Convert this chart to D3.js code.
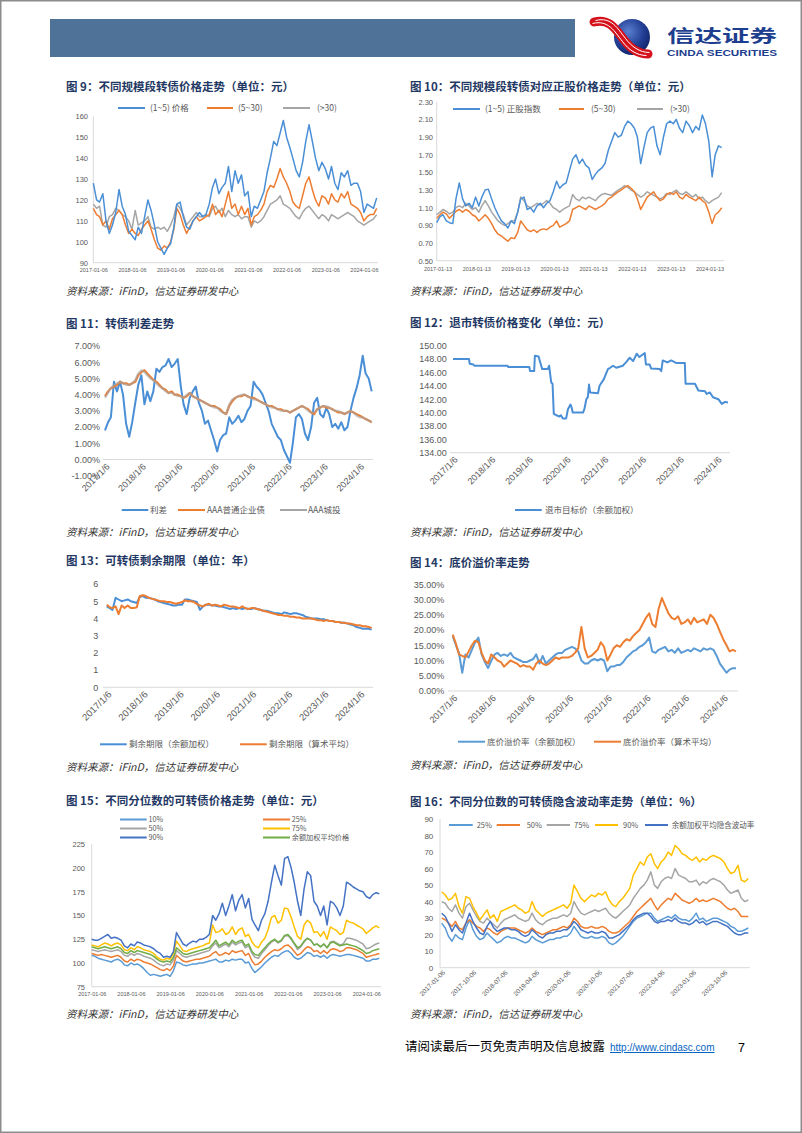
<!DOCTYPE html>
<html><head><meta charset="utf-8">
<script src="https://cdn.jsdelivr.net/npm/d3@7"></script>
<style>
body{margin:0;background:#fff;}
svg{display:block;font-family:"Liberation Sans","Noto Sans CJK SC",sans-serif;}
</style></head><body>
<svg id="page" width="802" height="1133"></svg>
<script>
// ---------- shared monthly categories ----------
const months = d3.range(89).map(i => d3.timeMonth.offset(new Date(2017, 0, 6), i));

// ---------- 图9 ----------
const c9Names = ["(1~5) 价格", "(5~30)", "(>30)"];
const c9Small = [128,120,119,123,110,104,108,114,125,117,113,105, 103,101,107,104,112,120,115,108,100,97,94,97, 99,107,118,119,112,107,106,110,112,114,112,113, 118,126,130,123,126,128,136,124,134,128,132,122, 124,112,117,116,120,124,133,140,148,146,152,158, 150,145,140,134,131,138,148,156,148,140,134,138, 135,130,136,128,125,133,131,134,127,128,128,124, 114,118,117,116,121];
const c9Mid = [116,113,112,108,110,106,111,113,115,113,108,104, 106,104,103,106,108,110,106,101,97,96,98,97, 100,106,116,113,108,104,107,110,112,110,111,112, 113,118,113,115,112,118,124,116,118,113,117,113, 116,108,112,113,115,118,124,127,126,130,135,131, 128,124,119,117,116,122,128,131,125,120,117,122, 121,118,123,120,119,123,121,124,118,117,116,114, 110,112,113,113,116];
const c9Large = [118,116,117,108,107,112,113,116,115,113,112,110, 106,115,108,109,110,112,107,106,107,106,107,105, 108,112,118,116,113,108,110,112,114,112,112,113, 112,116,117,114,116,112,115,113,112,113,111,112, 112,107,110,109,110,112,115,118,119,120,122,118, 117,116,114,112,111,114,116,117,115,113,111,113, 112,110,113,112,111,112,113,114,113,112,110,109, 108,109,110,111,113];
const c9YTicks = [90,100,110,120,130,140,150,160];
const c9XTicks = ["2017-01-06","2018-01-06","2019-01-06","2020-01-06","2021-01-06","2022-01-06","2023-01-06","2024-01-06"];

// ---------- 图10 ----------
const c10Names = ["(1~5) 正股指数", "(5~30)", "(>30)"];
const c10Small = [0.93,1.00,1.02,0.95,0.93,0.92,1.20,1.38,1.20,1.12,1.15,1.10, 1.22,1.12,1.22,1.30,1.31,1.20,1.10,1.02,0.95,0.92,0.87,0.95, 0.92,1.05,1.20,1.22,1.08,1.10,1.05,1.12,1.15,1.10,1.15,1.18, 1.28,1.40,1.32,1.36,1.38,1.52,1.65,1.70,1.60,1.65,1.58,1.55, 1.42,1.48,1.52,1.55,1.60,1.75,1.85,1.95,1.90,1.92,2.02,2.08, 2.05,2.00,1.90,1.60,1.78,1.95,2.00,2.02,1.80,1.70,1.90,2.05, 2.08,2.05,2.10,2.00,1.95,2.08,2.03,1.95,2.02,1.98,2.15,2.05, 1.85,1.45,1.70,1.80,1.78];
const c10Mid = [0.98,1.02,1.05,1.03,0.98,1.02,1.06,1.08,1.05,1.08,1.06,1.02, 1.00,0.95,0.98,1.02,0.98,0.92,0.85,0.80,0.78,0.75,0.72,0.76, 0.75,0.82,0.95,0.90,0.85,0.83,0.85,0.82,0.85,0.86,0.85,0.88, 0.90,0.95,0.88,0.90,0.92,0.95,1.08,1.10,1.12,1.10,1.08,1.12, 1.10,1.08,1.10,1.12,1.15,1.20,1.22,1.25,1.28,1.30,1.33,1.35, 1.32,1.28,1.20,1.08,1.15,1.22,1.25,1.28,1.22,1.18,1.20,1.25, 1.27,1.25,1.28,1.22,1.20,1.25,1.22,1.20,1.18,1.22,1.18,1.15, 1.05,0.92,1.02,1.05,1.10];
const c10Large = [1.02,1.05,1.08,1.06,1.03,1.05,1.10,1.12,1.10,1.15,1.12,1.08, 1.10,1.05,1.12,1.18,1.12,1.05,1.00,0.95,0.92,0.90,0.92,0.95, 0.95,1.05,1.22,1.18,1.12,1.10,1.12,1.15,1.13,1.15,1.18,1.15, 1.10,1.08,1.05,1.08,1.10,1.12,1.25,1.20,1.18,1.22,1.20,1.22, 1.20,1.18,1.22,1.25,1.26,1.25,1.24,1.27,1.30,1.32,1.35,1.33, 1.30,1.28,1.25,1.22,1.24,1.28,1.26,1.24,1.22,1.20,1.22,1.26, 1.25,1.28,1.30,1.26,1.25,1.28,1.25,1.22,1.25,1.20,1.22,1.18, 1.15,1.18,1.20,1.22,1.27];
const c10YTicks = [0.5,0.7,0.9,1.1,1.3,1.5,1.7,1.9,2.1,2.3];
const c10XTicks = ["2017-01-13","2018-01-13","2019-01-13","2020-01-13","2021-01-13","2022-01-13","2023-01-13","2024-01-13"];

// ---------- 图11 ----------
const c11Names = ["利差", "AAA普通企业债", "AAA城投"];
const c11Spread = [1.8,2.3,2.6,4.8,4.2,4.8,4.0,2.2,1.4,2.3,3.5,4.6, 5.2,3.4,4.2,3.6,4.2,5.6,5.4,5.7,5.8,6.2,5.7,5.9, 6.2,4.5,3.4,2.8,3.8,4.2,4.5,3.5,3.0,2.2,2.4,1.8, 1.2,0.5,1.2,1.5,1.6,2.6,2.2,2.4,2.7,2.3,2.5,3.0, 3.3,4.8,4.5,4.3,4.0,3.5,3.0,2.2,1.8,1.4,1.2,0.6, 0.2,-0.2,1.0,2.6,2.8,2.5,1.6,1.2,2.0,3.5,3.8,2.8, 2.6,3.2,2.8,2.0,2.2,1.9,2.3,1.8,2.0,3.0,3.8,4.4, 5.2,6.4,5.3,5.0,4.2];
const c11Corp = [3.9,4.2,4.4,4.5,4.6,4.8,4.7,4.7,4.6,4.7,4.8,5.2, 5.4,5.5,5.3,5.1,4.9,4.8,4.6,4.4,4.3,4.1,4.2,4.0, 4.0,3.9,3.8,3.9,4.1,3.9,3.8,3.7,3.6,3.5,3.4,3.3, 3.3,3.2,3.1,2.9,2.8,3.3,3.6,3.8,3.9,3.9,4.0,3.9, 3.8,3.8,3.7,3.6,3.5,3.4,3.3,3.3,3.2,3.1,3.1,3.0, 3.0,2.9,3.0,3.1,3.2,3.3,3.2,3.1,2.9,2.8,3.1,3.2, 3.3,3.2,3.2,3.1,3.0,2.9,2.9,2.8,2.9,3.0,2.9,2.8, 2.7,2.6,2.5,2.4,2.3];
const c11Urban = [3.8,4.1,4.4,4.6,4.7,4.8,4.7,4.6,4.6,4.7,4.9,5.3, 5.5,5.4,5.2,5.0,4.9,4.7,4.5,4.4,4.2,4.1,4.1,4.0, 3.9,3.9,3.8,4.0,4.1,3.9,3.8,3.7,3.6,3.5,3.4,3.3, 3.2,3.2,3.0,2.9,2.8,3.4,3.7,3.8,3.9,4.0,4.0,3.9, 3.8,3.7,3.7,3.6,3.5,3.4,3.3,3.2,3.2,3.1,3.0,3.0, 3.0,2.9,3.0,3.1,3.2,3.3,3.2,3.0,2.9,2.9,3.1,3.2, 3.3,3.3,3.2,3.1,3.0,3.0,2.9,2.8,2.9,3.0,2.9,2.7, 2.6,2.6,2.5,2.4,2.3];
const c11YTicks = [-1,0,1,2,3,4,5,6,7];
const yearTicksSlash = ["2017/1/6","2018/1/6","2019/1/6","2020/1/6","2021/1/6","2022/1/6","2023/1/6","2024/1/6"];

// ---------- 图12 ----------
const c12Name = "退市目标价（余额加权）";
const c12Dates = ["2017-01-06","2017-06-10","2017-06-17","2017-07-22","2017-08-01","2018-06-18","2018-06-25","2019-01-15","2019-01-22","2019-03-03","2019-03-10","2019-04-15","2019-05-01","2019-05-20","2019-07-12","2019-07-26","2019-08-15","2019-08-28","2019-09-09","2019-10-05","2019-11-03","2019-11-17","2019-12-06","2020-01-06","2020-01-24","2020-02-18","2020-02-28","2020-03-10","2020-06-18","2020-07-01","2020-07-20","2020-08-04","2020-08-15","2020-08-26","2020-11-10","2020-11-25","2021-01-06","2021-02-14","2021-03-08","2021-04-05","2021-05-05","2021-07-08","2021-08-08","2021-09-13","2021-10-16","2021-11-20","2021-12-16","2022-02-06","2022-02-17","2022-03-25","2022-04-08","2022-07-01","2022-07-16","2022-07-30","2022-09-13","2022-10-20","2022-12-10","2023-03-01","2023-03-08","2023-06-07","2023-07-10","2023-09-13","2023-09-27","2023-10-30","2023-11-28","2024-01-20","2024-02-22","2024-03-25","2024-04-22"];
const c12Values = [148.0,148.0,147.3,147.2,147.0,147.0,146.8,146.8,146.2,146.2,148.5,148.4,147.5,146.5,146.5,147.0,144.5,144.3,139.8,139.6,139.4,139.6,139.1,139.1,140.5,141.2,140.8,140.0,140.0,140.5,142.0,142.3,144.2,143.0,142.9,144.0,145.0,146.5,146.7,147.0,146.7,147.0,147.5,148.2,147.7,148.8,148.3,148.9,147.2,147.2,146.6,146.5,146.2,147.8,147.5,147.8,147.4,147.4,144.3,144.3,143.3,143.2,142.8,143.0,142.3,142.0,141.3,141.6,141.5];
const c12YTicks = [134,136,138,140,142,144,146,148,150];

// ---------- 图13 ----------
const c13Names = ["剩余期限（余额加权）", "剩余期限（算术平均）"];
const c13Weighted = [4.7,4.6,4.5,5.2,5.1,5.0,5.05,5.1,5.0,4.95,4.9,5.25, 5.3,5.2,5.2,5.15,5.1,5.0,4.95,4.9,4.85,4.8,4.75,4.75, 4.8,4.8,5.1,5.1,5.05,5.0,4.95,4.5,4.7,4.8,4.8,4.75, 4.75,4.7,4.7,4.65,4.6,4.55,4.6,4.55,4.6,4.55,4.6,4.55, 4.55,4.6,4.55,4.5,4.45,4.45,4.4,4.35,4.3,4.3,4.25,4.35, 4.3,4.25,4.3,4.3,4.25,4.2,4.1,4.05,4.0,4.0,4.0,3.95, 3.95,3.9,3.85,3.85,3.8,3.8,3.75,3.75,3.7,3.65,3.6,3.5, 3.45,3.4,3.4,3.4,3.35];
const c13Average = [4.8,4.65,4.6,4.7,4.25,4.75,4.6,4.75,4.6,4.6,4.65,5.3, 5.35,5.3,5.2,5.15,5.1,5.05,5.0,5.0,4.95,4.95,4.9,4.85, 4.9,4.95,5.05,5.0,5.0,4.95,4.85,4.75,4.7,4.8,4.85,4.75, 4.8,4.75,4.7,4.8,4.75,4.7,4.7,4.65,4.6,4.7,4.6,4.55, 4.6,4.6,4.55,4.5,4.45,4.4,4.35,4.3,4.25,4.2,4.2,4.15, 4.15,4.1,4.1,4.05,4.05,4.0,4.0,4.0,4.0,3.95,3.9,3.9, 3.85,3.9,3.85,3.85,3.8,3.8,3.75,3.75,3.7,3.7,3.65,3.6, 3.6,3.55,3.55,3.5,3.45];
const c13YTicks = [0,1,2,3,4,5,6];

// ---------- 图14 ----------
const c14Names = ["底价溢价率（余额加权）", "底价溢价率（算术平均）"];
const c14Weighted = [18,15,12.5,6,12,11,13.5,16,17.5,12,9.5,7.5, 10,12,12.5,11.5,12,11.5,12.5,11,10.5,10,9.5,9.5, 10,10.5,12,9,11.5,9,10,11,12,12.5,12.5,13.5, 14,14.5,14,13,10,9,9,10,10.5,10,10.5,10, 6.5,8,8,8.5,8.5,9.5,11,12,13,13.5,14.5,15, 16,17.5,13,12.5,13.5,14,14.5,13,13.5,12.5,14,12.5, 13,13.5,13,14,13.5,13,14,13.5,14,13.5,11.5,9, 7.5,6,7,7.5,7.5];
const c14Average = [18.5,15.5,12,11.5,11,13,15,16.5,16,12.5,10,9, 12,11,10,9.5,8,9,10,9.5,9,8,8.5,8, 8,7,9,10,9,8.5,9,10,11,10.5,11,11, 11,11.5,12.5,14,21,14,11,11.5,12.5,13.5,16,14.5, 10,12,14,15,14.5,16,17,16.5,18,19,20,22, 24,25.5,22,21,27,30.5,28,25.5,24,23.5,24.5,22, 22.5,23.5,22,24,22.5,23,23.5,22,25,24,22,19.5, 17,15,13,13.5,13];
const c14YTicks = [0,5,10,15,20,25,30,35];

// ---------- 图15 ----------
const c15Names = ["10%", "25%", "50%", "75%", "90%", "余额加权平均价格"];
const c15P10 = [108,107,105,104,103,102,101,103,104,102,98,97, 100,98,99,97,94,90,87,88,87,86,87,88, 86,92,101,100,98,97,98,99,99,100,100,101, 102,103,104,101,101,103,102,104,103,104,104,100, 101,94,90,93,96,100,103,106,108,107,110,112, 113,110,106,104,105,108,111,110,107,108,106,108, 105,108,109,108,107,108,109,109,108,107,106,105, 102,102,104,104,105];
const c15P25 = [110,109,108,109,108,107,106,107,108,106,102,101, 104,102,104,103,101,100,99,97,95,93,92,94, 92,97,108,105,102,101,102,103,104,104,105,106, 107,110,112,108,109,111,109,113,111,112,113,108, 110,102,98,99,102,106,109,112,114,113,115,118, 119,116,112,108,110,114,117,116,112,113,110,113, 110,114,115,114,112,113,116,116,115,114,112,110, 106,107,108,109,110];
const c15P50 = [114,113,112,113,114,113,112,113,114,112,108,107, 110,108,110,109,107,106,105,103,100,98,97,99, 98,103,113,110,107,106,107,108,109,110,111,112, 113,118,121,116,118,120,117,122,119,121,122,116, 118,110,106,105,110,114,118,122,124,121,123,128, 129,125,120,114,117,122,126,124,119,120,117,120, 116,122,123,121,119,120,126,126,125,124,122,120, 115,116,118,120,121];
const c15P75 = [119,118,117,119,121,120,118,120,121,119,114,113, 116,114,117,116,114,113,112,110,106,104,103,105, 104,110,123,118,113,112,114,115,116,117,118,120, 121,140,132,133,136,130,132,138,130,135,137,128, 130,122,118,116,122,126,135,148,150,142,145,158, 157,148,138,128,125,140,145,142,132,133,128,133, 125,138,136,134,130,132,145,143,142,140,138,136, 131,134,137,139,137];
const c15P90 = [125,124,124,126,128,130,126,127,126,124,118,116, 120,118,122,121,119,118,117,115,112,110,106,107, 106,112,132,126,120,118,121,123,122,125,125,127, 130,150,145,152,163,150,160,172,155,166,172,158, 168,146,140,134,145,152,165,185,203,192,182,210, 212,200,185,165,150,178,196,192,165,160,150,160, 140,165,163,158,150,160,185,183,180,178,176,175, 170,168,172,174,173];
const c15Avg = [117,116,115,116,117,116,115,116,117,115,111,110, 113,111,113,112,111,110,109,107,104,102,101,102, 101,106,116,113,110,109,110,111,112,113,114,115, 116,120,124,118,120,122,119,124,121,123,124,118, 120,112,109,108,112,116,120,123,125,122,124,129, 130,126,121,116,118,123,126,124,119,120,117,120, 116,121,122,120,118,119,120,119,118,117,115,113, 110,111,113,114,115];
const c15YTicks = [75,100,125,150,175,200,225];

// ---------- 图16 ----------
const c16Names = ["25%", "50%", "75%", "90%", "余额加权平均隐含波动率"];
const c16P25 = [27,24,19,16,20,18,17,24,29,23,19,17, 18,21,19,17,15,16,18,19,18,18,17,16, 15,16,19,17,16,15,16,17,17,18,18,19, 19,21,25,22,19,18,18,19,18,18,19,18, 15,14,15,17,19,22,25,28,30,31,32,33, 33,30,28,29,30,31,30,32,30,29,29,28, 30,33,29,30,28,29,30,30,29,28,27,25, 24,22,22,23,24];
const c16P50 = [30,29,27,25,28,24,23,27,29,27,25,24, 22,24,23,21,20,22,23,24,24,24,23,22, 21,22,24,22,21,20,21,22,23,23,24,25, 24,26,30,28,25,24,24,25,24,24,25,24, 22,21,21,22,24,26,28,31,34,36,38,40, 42,38,35,38,40,42,41,45,43,41,40,39, 40,42,40,41,40,41,42,41,40,38,36,35, 36,34,31,31,31];
const c16P75 = [40,39,36,34,38,33,30,37,39,35,31,28, 27,30,28,26,24,27,29,30,31,32,30,29, 28,29,33,29,27,26,28,29,30,30,31,32, 31,33,40,36,33,32,33,34,35,34,35,36, 33,31,30,32,34,36,38,42,45,48,50,53, 58,50,48,52,54,55,54,60,56,55,54,52, 52,53,50,52,51,53,54,53,52,50,47,45, 46,47,42,40,41];
const c16P90 = [46,44,41,42,45,37,33,43,42,37,33,29, 32,35,30,32,28,34,35,36,37,38,36,35, 33,34,40,35,33,31,33,34,35,36,37,38, 36,39,50,46,42,40,42,44,43,45,44,46, 41,38,37,40,42,45,48,56,60,64,62,67, 69,63,60,64,66,70,68,74,72,69,68,66, 65,67,64,66,65,67,68,67,66,64,60,57, 58,62,53,52,54];
const c16Weighted = [33,31,27,22,26,23,21,27,33,28,24,21, 20,25,28,24,22,23,24,24,23,23,22,20, 19,20,23,21,19,18,20,21,21,22,22,23, 23,25,28,26,23,22,21,22,21,21,22,21, 18,18,19,20,22,24,26,29,31,32,33,33, 31,28,27,28,28,29,28,30,28,27,27,26, 27,29,27,28,26,27,28,28,27,26,25,23, 21,20,20,21,21];
const c16YTicks = [0,10,20,30,40,50,60,70,80,90];
const c16XTicks = ["2017-01-06","2017-10-06","2018-07-06","2019-04-06","2020-01-06","2020-10-06","2021-07-06","2022-04-06","2023-01-06","2023-10-06"];

// ---------- drawing ----------
const svg = d3.select("#page");
const AX = "#d9d9d9", TXT = "#595959";
const BLUE = "#4a8fd6", ORANGE = "#ed7d31", GRAY = "#a5a5a5", YELLOW = "#ffc000", DBLUE = "#4472c4", GREEN = "#70ad47", LBLUE = "#5b9bd5";
const CJK = "'Noto Sans CJK SC','Liberation Sans',sans-serif";
const parseD = s => { const p = s.split(/[-\/]/).map(Number); return new Date(p[0], p[1] - 1, p[2]); };

// page frame
svg.append("rect").attr("x", 0.75).attr("y", 0.75).attr("width", 800.5).attr("height", 1131.5)
  .attr("fill", "none").attr("stroke", "#8c8c8c").attr("stroke-width", 1.5);

// header bar
svg.append("rect").attr("x", 50).attr("y", 19).attr("width", 525).attr("height", 38).attr("fill", "#4f7298");

// logo
const defs = svg.append("defs");
const rg = defs.append("radialGradient").attr("id", "ball").attr("cx", "40%").attr("cy", "35%").attr("r", "70%");
rg.append("stop").attr("offset", "0%").attr("stop-color", "#5a7fd0");
rg.append("stop").attr("offset", "60%").attr("stop-color", "#233f95");
rg.append("stop").attr("offset", "100%").attr("stop-color", "#0f2266");
svg.append("circle").attr("cx", 632).attr("cy", 37).attr("r", 18).attr("fill", "url(#ball)");
const swoosh = "M 594 22 C 610 18, 616 30, 624 40 C 630 48, 638 54, 648 54";
svg.append("path").attr("d", swoosh).attr("fill", "none").attr("stroke", "#d5121b").attr("stroke-width", 9).attr("stroke-linecap", "round");
svg.append("path").attr("d", swoosh).attr("fill", "none").attr("stroke", "#fff").attr("stroke-width", 1).attr("transform", "translate(-1.5,1.5)");
svg.append("path").attr("d", swoosh).attr("fill", "none").attr("stroke", "#fff").attr("stroke-width", 1).attr("transform", "translate(1.5,-1.5)");
svg.append("text").attr("x", 667).attr("y", 42).attr("textLength", 110).attr("lengthAdjust", "spacingAndGlyphs")
  .style("font-family", CJK).style("font-size", "17px").style("font-weight", 700).attr("fill", "#1d3e8e").text("信达证券");
svg.append("text").attr("x", 667).attr("y", 56).attr("textLength", 110).attr("lengthAdjust", "spacingAndGlyphs")
  .style("font-size", "9px").style("font-weight", 700).attr("fill", "#1d3e8e").text("CINDA SECURITIES");

function titleText(x, y, t) {
  svg.append("text").attr("x", x).attr("y", y).style("font-family", CJK).style("font-size", "11.5px")
    .style("font-weight", 700).attr("fill", "#1f3864").text(t);
}
function sourceText(x, y) {
  svg.append("text").attr("x", x).attr("y", y).style("font-family", CJK).style("font-size", "10.5px")
    .style("font-style", "italic").attr("fill", "#333").text("资料来源：iFinD，信达证券研发中心");
}

function drawChart(o) {
  const g = svg.append("g");
  const dates = o.dates;
  const x = d3.scaleTime().domain([dates[0], dates[dates.length - 1]]).range([o.x0, o.x1]);
  const y = d3.scaleLinear().domain(o.yDomain).range([o.yB, o.yT]);
  if (o.vAxis != null) g.append("line").attr("x1", o.vAxis).attr("x2", o.vAxis).attr("y1", o.yT).attr("y2", o.yB).attr("stroke", AX);
  const hy = y(o.hVal);
  g.append("line").attr("x1", o.hx0).attr("x2", o.hx1).attr("y1", hy).attr("y2", hy).attr("stroke", AX);

  const ya = g.append("g").attr("transform", `translate(${o.yLabelX},0)`)
    .call(d3.axisLeft(y).tickValues(o.yTicks).tickFormat(o.yFmt).tickSize(0).tickPadding(0));
  ya.select(".domain").remove();
  ya.selectAll("text").attr("fill", TXT).style("font-size", o.yFont + "px").style("font-family", "'Liberation Sans',sans-serif");

  const xa = g.append("g").attr("transform", `translate(0,${o.xLabelY})`)
    .call(d3.axisBottom(x).tickValues(o.xTicks.map(parseD)).tickFormat((d, i) => o.xTicks[i]).tickSize(0).tickPadding(0));
  xa.select(".domain").remove();
  const xt = xa.selectAll("text").attr("fill", TXT).style("font-size", o.xFont + "px").style("font-family", "'Liberation Sans',sans-serif");
  if (o.rotate) xt.attr("text-anchor", "end").attr("y", 0).attr("x", 0).attr("dy", "0.75em").attr("transform", "rotate(-45)");
  else xt.attr("y", 0).attr("dy", "0.35em");

  o.series.forEach(s => {
    const line = d3.line().x((d, i) => x(dates[i])).y(d => y(d));
    g.append("path").datum(s.values).attr("d", line).attr("fill", "none").attr("stroke", s.color)
      .attr("stroke-width", s.w || 1.5).attr("stroke-linejoin", "round").attr("opacity", s.op || 1);
  });

  o.legend.forEach(l => {
    g.append("line").attr("x1", l.x).attr("x2", l.x + l.len).attr("y1", l.y).attr("y2", l.y)
      .attr("stroke", l.color).attr("stroke-width", 2);
    g.append("text").attr("x", l.tx).attr("y", l.y).attr("dy", "0.35em").style("font-family", CJK)
      .style("font-size", o.legFont + "px").attr("fill", TXT).text(l.label);
  });
}

const fmtInt = d => d;
const fmt2 = d => d.toFixed(2);
const fmtPct = d => d.toFixed(2) + "%";

// 图9
titleText(66, 90.5, "图 9：不同规模段转债价格走势（单位：元）");
drawChart({
  dates: months, x0: 93.3, x1: 376.7, yDomain: [90, 160], yB: 262.7, yT: 116.3,
  vAxis: 93.3, hVal: 90, hx0: 93.3, hx1: 378, yLabelX: 88, yTicks: c9YTicks, yFmt: fmtInt, yFont: 7.5,
  xLabelY: 269.8, xTicks: c9XTicks, xFont: 5.5, rotate: false, legFont: 8.5,
  series: [{ values: c9Large, color: GRAY }, { values: c9Mid, color: ORANGE }, { values: c9Small, color: BLUE }],
  legend: [
    { x: 118, len: 27, y: 108, tx: 150, label: c9Names[0], color: BLUE },
    { x: 207, len: 26, y: 108, tx: 238, label: c9Names[1], color: ORANGE },
    { x: 283, len: 27, y: 108, tx: 317, label: c9Names[2], color: GRAY }]
});
sourceText(66, 295.2);

// 图10
titleText(410, 90.5, "图 10：不同规模段转债对应正股价格走势（单位：元）");
drawChart({
  dates: months, x0: 436.7, x1: 721.7, yDomain: [0.5, 2.3], yB: 260.7, yT: 101.7,
  vAxis: 436.7, hVal: 0.5, hx0: 436.7, hx1: 724, yLabelX: 433, yTicks: c10YTicks, yFmt: fmt2, yFont: 7.5,
  xLabelY: 268.8, xTicks: c10XTicks, xFont: 5.5, rotate: false, legFont: 8.5,
  series: [{ values: c10Large, color: GRAY }, { values: c10Mid, color: ORANGE }, { values: c10Small, color: BLUE }],
  legend: [
    { x: 453, len: 27, y: 109, tx: 485, label: c10Names[0], color: BLUE },
    { x: 559, len: 25, y: 109, tx: 591, label: c10Names[1], color: ORANGE },
    { x: 637, len: 26, y: 109, tx: 670, label: c10Names[2], color: GRAY }]
});
sourceText(410, 295.2);

// 图11
titleText(66, 327.5, "图 11：转债利差走势");
drawChart({
  dates: months, x0: 105, x1: 371.7, yDomain: [-1, 7], yB: 475.7, yT: 346,
  vAxis: null, hVal: 0, hx0: 103, hx1: 373, yLabelX: 100, yTicks: c11YTicks, yFmt: fmtPct, yFont: 9,
  xLabelY: 462.5, xTicks: yearTicksSlash, xFont: 9, rotate: true, legFont: 8.5,
  series: [{ values: c11Spread, color: BLUE, w: 2 }, { values: c11Corp, color: ORANGE, w: 2.2 }, { values: c11Urban, color: GRAY, w: 2.2, op: 0.6 }],
  legend: [
    { x: 121.7, len: 26.6, y: 510, tx: 150, label: c11Names[0], color: BLUE },
    { x: 178, len: 27, y: 510, tx: 207, label: c11Names[1], color: ORANGE },
    { x: 280, len: 27, y: 510, tx: 308, label: c11Names[2], color: GRAY }]
});
sourceText(66, 535.5);

// 图12
titleText(410, 327, "图 12：退市转债价格变化（单位：元）");
drawChart({
  dates: c12Dates.map(parseD), x0: 453, x1: 728, yDomain: [134, 150], yB: 452.7, yT: 345.7,
  vAxis: null, hVal: 134, hx0: 450, hx1: 730, yLabelX: 446.7, yTicks: c12YTicks, yFmt: fmt2, yFont: 9,
  xLabelY: 455.5, xTicks: yearTicksSlash, xFont: 9, rotate: true, legFont: 8.5,
  series: [{ values: c12Values, color: BLUE, w: 2 }],
  legend: [{ x: 515, len: 26.7, y: 510, tx: 545, label: c12Name, color: BLUE }]
});
sourceText(410, 536);

// 图13
titleText(66, 565, "图 13：可转债剩余期限（单位：年）");
drawChart({
  dates: months, x0: 106.7, x1: 371.7, yDomain: [0, 6], yB: 687.3, yT: 584,
  vAxis: null, hVal: 0, hx0: 103, hx1: 373, yLabelX: 98.3, yTicks: c13YTicks, yFmt: fmtInt, yFont: 9,
  xLabelY: 690, xTicks: yearTicksSlash, xFont: 9.5, rotate: true, legFont: 8.5,
  series: [{ values: c13Weighted, color: BLUE, w: 2 }, { values: c13Average, color: ORANGE, w: 2 }],
  legend: [
    { x: 100, len: 26.7, y: 744.3, tx: 129, label: c13Names[0], color: BLUE },
    { x: 240, len: 26.7, y: 744.3, tx: 269, label: c13Names[1], color: ORANGE }]
});
sourceText(66, 771);

// 图14
titleText(410, 567, "图 14：底价溢价率走势");
drawChart({
  dates: months, x0: 452.7, x1: 736, yDomain: [0, 35], yB: 691, yT: 584.3,
  vAxis: null, hVal: 0, hx0: 448, hx1: 738, yLabelX: 444.3, yTicks: c14YTicks, yFmt: fmtPct, yFont: 9,
  xLabelY: 694, xTicks: yearTicksSlash, xFont: 9, rotate: true, legFont: 8.5,
  series: [{ values: c14Weighted, color: LBLUE, w: 2 }, { values: c14Average, color: ORANGE, w: 2 }],
  legend: [
    { x: 458, len: 27, y: 741.7, tx: 487, label: c14Names[0], color: LBLUE },
    { x: 594, len: 27, y: 741.7, tx: 623, label: c14Names[1], color: ORANGE }]
});
sourceText(410, 769);

// 图15
titleText(66, 805, "图 15：不同分位数的可转债价格走势（单位：元）");
drawChart({
  dates: months, x0: 91.7, x1: 379.3, yDomain: [75, 225], yB: 986.7, yT: 844.3,
  vAxis: 91.7, hVal: 75, hx0: 91.7, hx1: 381, yLabelX: 85, yTicks: c15YTicks, yFmt: fmtInt, yFont: 7.5,
  xLabelY: 994.5, xTicks: c9XTicks, xFont: 5.5, rotate: false, legFont: 7.2,
  series: [
    { values: c15P10, color: LBLUE }, { values: c15P25, color: ORANGE }, { values: c15P50, color: GRAY },
    { values: c15Avg, color: GREEN }, { values: c15P75, color: YELLOW }, { values: c15P90, color: DBLUE }],
  legend: [
    { x: 120, len: 26.7, y: 819.5, tx: 148.5, label: c15Names[0], color: LBLUE },
    { x: 263, len: 27, y: 819.5, tx: 291.7, label: c15Names[1], color: ORANGE },
    { x: 120, len: 26.7, y: 828.5, tx: 148.5, label: c15Names[2], color: GRAY },
    { x: 263, len: 27, y: 828.5, tx: 291.7, label: c15Names[3], color: YELLOW },
    { x: 120, len: 26.7, y: 837.5, tx: 148.5, label: c15Names[4], color: DBLUE },
    { x: 263, len: 27, y: 837.5, tx: 291.7, label: c15Names[5], color: GREEN }]
});
sourceText(66, 1017.8);

// 图16
titleText(410, 805.5, "图 16：不同分位数的可转债隐含波动率走势（单位：%）");
drawChart({
  dates: months, x0: 441.7, x1: 748.3, yDomain: [0, 90], yB: 967.7, yT: 819,
  vAxis: 440, hVal: 0, hx0: 440, hx1: 750, yLabelX: 433.3, yTicks: c16YTicks, yFmt: fmtInt, yFont: 8,
  xLabelY: 969.5, xTicks: c16XTicks, xFont: 6.5, rotate: true, legFont: 7.5,
  series: [
    { values: c16P25, color: LBLUE }, { values: c16P50, color: ORANGE }, { values: c16P75, color: GRAY },
    { values: c16P90, color: YELLOW }, { values: c16Weighted, color: DBLUE }],
  legend: [
    { x: 449, len: 23.7, y: 825, tx: 476.7, label: c16Names[0], color: LBLUE },
    { x: 496.7, len: 23.3, y: 825, tx: 526.7, label: c16Names[1], color: ORANGE },
    { x: 546.7, len: 23.3, y: 825, tx: 574, label: c16Names[2], color: GRAY },
    { x: 595, len: 23, y: 825, tx: 623, label: c16Names[3], color: YELLOW },
    { x: 645, len: 23, y: 825, tx: 671.7, label: c16Names[4], color: DBLUE }]
});
sourceText(410, 1017.8);

// footer
svg.append("text").attr("x", 405).attr("y", 1051).style("font-family", CJK).style("font-size", "12.5px")
  .attr("fill", "#000").text("请阅读最后一页免责声明及信息披露");
svg.append("text").attr("x", 610).attr("y", 1051).style("font-size", "10px").attr("fill", "#0563c1")
  .style("text-decoration", "underline").text("http://www.cindasc.com");
svg.append("text").attr("x", 738).attr("y", 1051.5).style("font-size", "12.5px").attr("fill", "#000").text("7");
</script></body></html>
